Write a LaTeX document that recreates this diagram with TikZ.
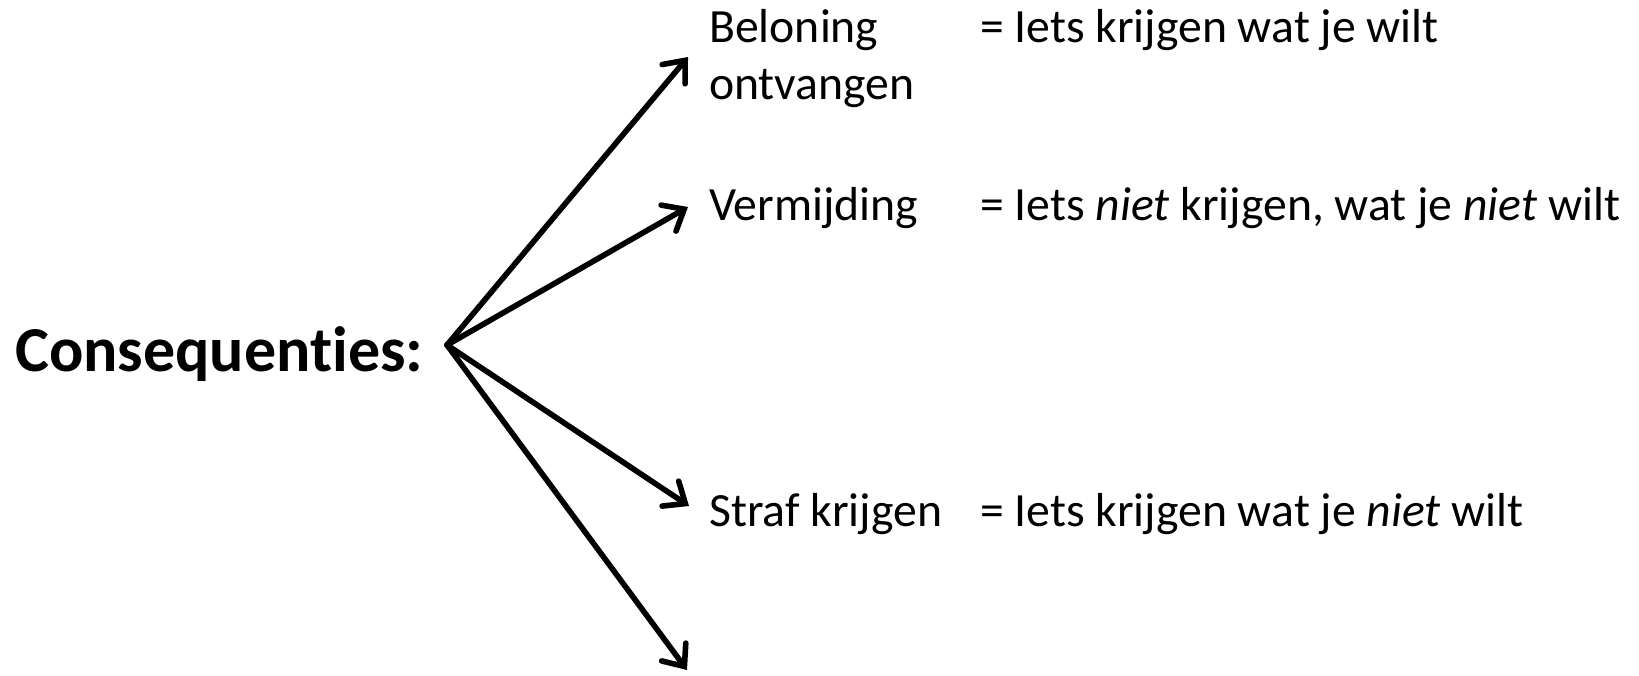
\documentclass[tikz,border=0pt]{standalone}
\usepackage{fontspec}
\setmainfont{Carlito}[Ligatures=NoCommon]
\usetikzlibrary{arrows.meta}
\begin{document}
\begin{tikzpicture}[x=1pt,y=-1pt,
  lbl/.style={anchor=base west,inner sep=0pt,font=\fontsize{47.7}{57}\selectfont},
  title/.style={anchor=base west,inner sep=0pt,font=\fontsize{64}{76}\selectfont\bfseries},
  conn/.style={line width=5.6pt,-{Straight Barb[length=18pt,width=30pt,line cap=round]},line cap=round}]
\useasboundingbox (0,0) rectangle (1639,675);
\node[title] (cons) at (15,371) {Consequenties:};
\coordinate (src) at (447,345);
\coordinate (t1) at (688,57);
\coordinate (t2) at (688,207);
\coordinate (t3) at (689,506);
\coordinate (t4) at (687,670);
\draw[conn] (src) -- (t1);
\draw[conn] (src) -- (t2);
\draw[conn] (src) -- (t3);
\draw[conn] (src) -- (t4);
\node[lbl] (bel) at (709,42) {Beloning};
\node[lbl] (ont) at (709,99) {ontvangen};
\node[lbl] (verm) at (709,220) {Vermijding};
\node[lbl] (straf) at (709,526) {Straf krijgen};
\node[lbl] (d1) at (980,42) {= Iets krijgen wat je wilt};
\node[lbl] (d2) at (980,220) {= Iets \textit{niet} krijgen, wat je \textit{niet} wilt};
\node[lbl] (d3) at (980,526) {= Iets krijgen wat je \textit{niet} wilt};
\end{tikzpicture}
\end{document}
